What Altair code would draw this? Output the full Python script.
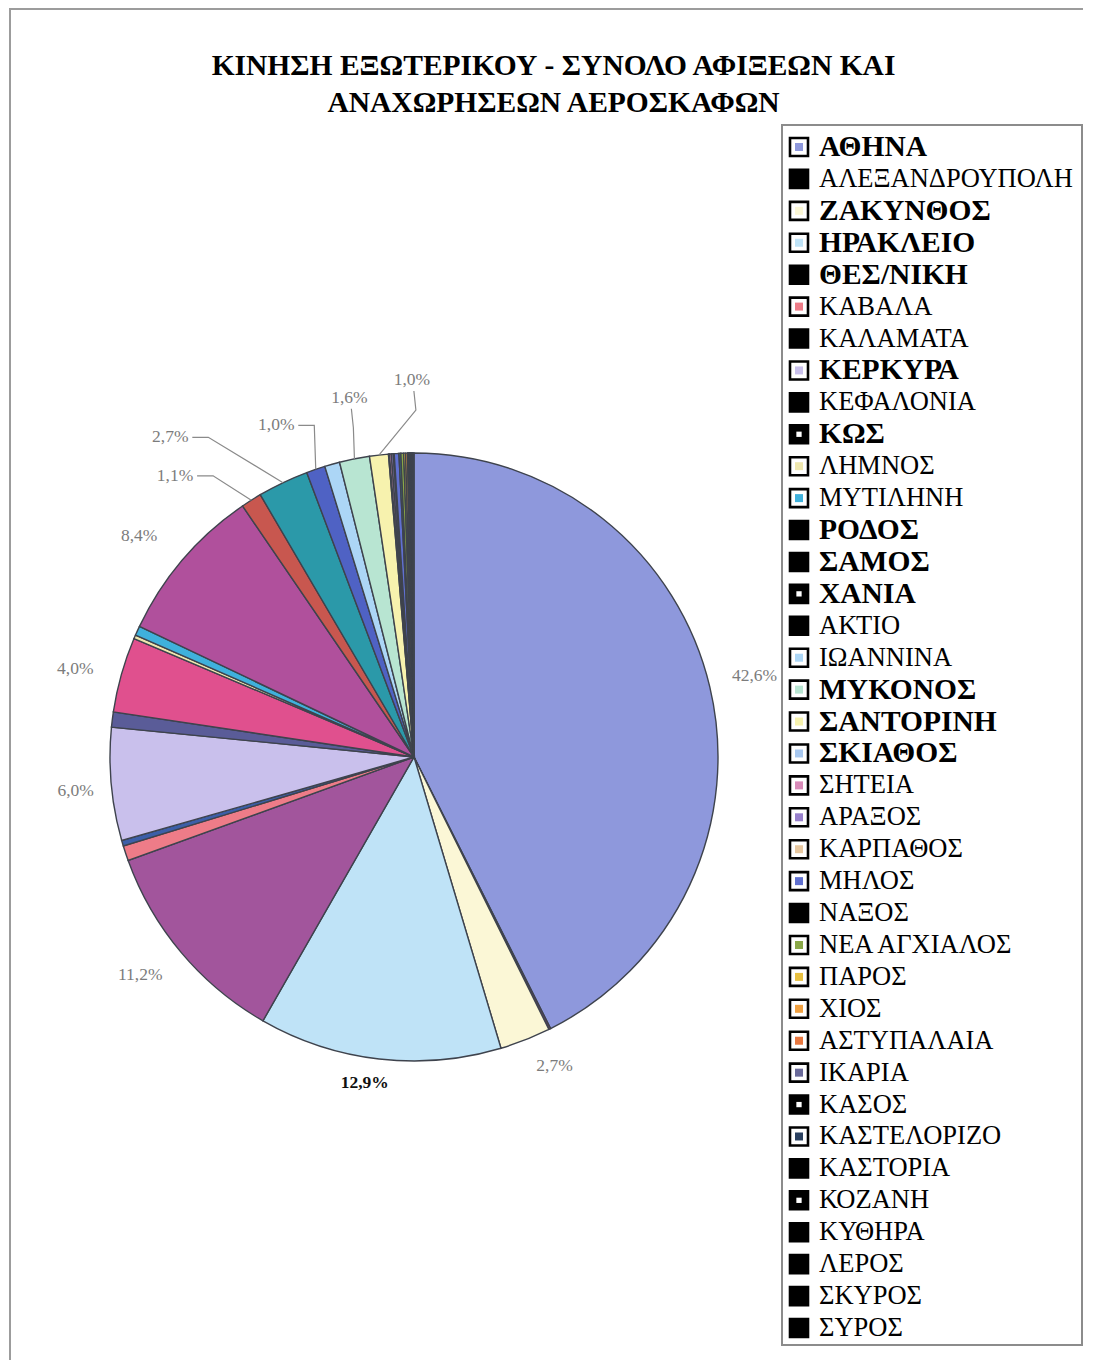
import altair as alt
import pandas as pd

TITLE = ["ΚΙΝΗΣΗ ΕΞΩΤΕΡΙΚΟΥ - ΣΥΝΟΛΟ ΑΦΙΞΕΩΝ ΚΑΙ", "ΑΝΑΧΩΡΗΣΕΩΝ ΑΕΡΟΣΚΑΦΩΝ"]

AIRPORTS = [
    "ΑΘΗΝΑ", "ΑΛΕΞΑΝΔΡΟΥΠΟΛΗ", "ΖΑΚΥΝΘΟΣ", "ΗΡΑΚΛΕΙΟ", "ΘΕΣ/ΝΙΚΗ", "ΚΑΒΑΛΑ",
    "ΚΑΛΑΜΑΤΑ", "ΚΕΡΚΥΡΑ", "ΚΕΦΑΛΟΝΙΑ", "ΚΩΣ", "ΛΗΜΝΟΣ", "ΜΥΤΙΛΗΝΗ", "ΡΟΔΟΣ",
    "ΣΑΜΟΣ", "ΧΑΝΙΑ", "ΑΚΤΙΟ", "ΙΩΑΝΝΙΝΑ", "ΜΥΚΟΝΟΣ", "ΣΑΝΤΟΡΙΝΗ", "ΣΚΙΑΘΟΣ",
    "ΣΗΤΕΙΑ", "ΑΡΑΞΟΣ", "ΚΑΡΠΑΘΟΣ", "ΜΗΛΟΣ", "ΝΑΞΟΣ", "ΝΕΑ ΑΓΧΙΑΛΟΣ", "ΠΑΡΟΣ",
    "ΧΙΟΣ", "ΑΣΤΥΠΑΛΑΙΑ", "ΙΚΑΡΙΑ", "ΚΑΣΟΣ", "ΚΑΣΤΕΛΟΡΙΖΟ", "ΚΑΣΤΟΡΙΑ", "ΚΟΖΑΝΗ",
    "ΚΥΘΗΡΑ", "ΛΕΡΟΣ", "ΣΚΥΡΟΣ", "ΣΥΡΟΣ",
]

SHARES = [
    42.6, 0.1, 2.7, 12.9, 11.2, 0.8,
    0.3, 6.0, 0.8, 4.0, 0.2, 0.5, 8.4,
    1.1, 2.7, 1.0, 0.8, 1.6, 1.0, 0.05,
    0.1, 0.1, 0.05, 0.25, 0.1, 0.15, 0.1,
    0.1, 0.03, 0.05, 0.03, 0.03, 0.03, 0.03,
    0.03, 0.03, 0.03, 0.05,
]

COLORS = [
    "#8e98dc", "#7a3a6a", "#fbf7d6", "#bfe3f7", "#a2559c", "#ee7c88",
    "#3c5fa8", "#c9c0ec", "#5a5c98", "#e0508e", "#efe7ae", "#3fb1dc", "#b0509c",
    "#c8574f", "#2b99a9", "#4f62c4", "#acd6f6", "#b8e5d2", "#f7f2ae", "#a8c8f0",
    "#d88ab8", "#9880cc", "#e8c8a0", "#6070d0", "#3a7f88", "#8aa848", "#e8c040",
    "#f0a040", "#e87840", "#6a6a9a", "#909090", "#2a4060", "#3a8a60", "#2a402a",
    "#444030", "#8a4a30", "#8a3a60", "#3a3a8a",
]

# legend text as printed (two entries carry a leading space)
LEGEND_TEXT = [("\u00a0" + n if n in ("ΖΑΚΥΝΘΟΣ", "ΗΡΑΚΛΕΙΟ") else n) for n in AIRPORTS]
LEGEND_BOLD = ["ΑΘΗΝΑ", "ΖΑΚΥΝΘΟΣ", "ΗΡΑΚΛΕΙΟ", "ΘΕΣ/ΝΙΚΗ", "ΚΕΡΚΥΡΑ", "ΚΩΣ",
               "ΡΟΔΟΣ", "ΣΑΜΟΣ", "ΧΑΝΙΑ", "ΜΥΚΟΝΟΣ", "ΣΑΝΤΟΡΙΝΗ", "ΣΚΙΑΘΟΣ"]
# swatch look in the printed legend: b = solid black, w = white box with colour, p = black with white mark
SWATCH = ["w", "b", "w", "w", "b", "w", "b", "w", "b", "p", "w", "w", "b",
          "b", "p", "b", "w", "w", "w", "w", "w", "w", "w", "w", "b", "w", "w",
          "w", "w", "w", "p", "w", "b", "p", "b", "b", "b", "b"]

# label placement (style): angle shift in degrees, radius px, leader type
LABEL_STYLE = {
    "ΑΘΗΝΑ": (0.0, 350, ""),
    "ΖΑΚΥΝΘΟΣ": (-3.0, 339, ""),
    "ΗΡΑΚΛΕΙΟ": (2.0, 330, ""),
    "ΘΕΣ/ΝΙΚΗ": (1.5, 350, ""),
    "ΚΕΡΚΥΡΑ": (-0.6, 340, ""),
    "ΚΩΣ": (-1.1, 350, ""),
    "ΡΟΔΟΣ": (-1.7, 353, ""),
    "ΣΑΜΟΣ": (-8.0, 369, "h"),
    "ΧΑΝΙΑ": (-11.8, 402, "h"),
    "ΑΚΤΙΟ": (-3.7, 359, "h"),
    "ΜΥΚΟΝΟΣ": (1.1, 365, "v"),
    "ΣΑΝΤΟΡΙΝΗ": (6.3, 377, "v"),
}
BOLD_PCT = ["ΗΡΑΚΛΕΙΟ"]

W, H = 1075, 1352
CX, CY, R = 406, 749, 304
FONT = "Liberation Serif"

df = pd.DataFrame({
    "name": AIRPORTS,
    "idx": list(range(len(AIRPORTS))),
    "value": SHARES,
    "leg": LEGEND_TEXT,
    "bold": [n in LEGEND_BOLD for n in AIRPORTS],
    "sw": SWATCH,
    "label": [(f"{v:.1f}".replace(".", ",") + "%") if n in LABEL_STYLE else "" for n, v in zip(AIRPORTS, SHARES)],
    "shift": [LABEL_STYLE.get(n, (0, 0, ""))[0] for n in AIRPORTS],
    "lr": [LABEL_STYLE.get(n, (0, 0, ""))[1] for n in AIRPORTS],
    "lead": [LABEL_STYLE.get(n, (0, 0, ""))[2] for n in AIRPORTS],
    "pbold": [n in BOLD_PCT for n in AIRPORTS],
})

color_scale = alt.Scale(domain=AIRPORTS, range=COLORS)
base = alt.Chart(df)

pie = base.mark_arc(outerRadius=R, stroke="#3e434d", strokeWidth=1.4).encode(
    theta=alt.Theta("value:Q", stack=True),
    color=alt.Color("name:N", scale=color_scale, legend=None),
    order=alt.Order("idx:Q"),
    x=alt.value(CX),
    y=alt.value(CY),
)

calc = (
    base.transform_window(cum="sum(value)", sort=[alt.SortField("idx")], frame=[None, 0])
    .transform_joinaggregate(total="sum(value)")
    .transform_calculate(mid="2*PI*(datum.cum - datum.value/2)/datum.total")
    .transform_calculate(la="datum.mid + datum.shift*PI/180")
    .transform_calculate(lx=f"{CX} + datum.lr*sin(datum.la)")
    .transform_calculate(ly=f"{CY} - datum.lr*cos(datum.la)")
    .transform_calculate(rx=f"{CX} + {R}*sin(datum.mid)")
    .transform_calculate(ry=f"{CY} - {R}*cos(datum.mid)")
)

labels_norm = calc.transform_filter("datum.label != '' && !datum.pbold").mark_text(
    font=FONT, fontSize=17.5, color="#7c7c7c", align="center", baseline="middle"
).encode(x=alt.X("lx:Q", scale=None, axis=None), y=alt.Y("ly:Q", scale=None, axis=None), text="label:N")

labels_bold = calc.transform_filter("datum.label != '' && datum.pbold").mark_text(
    font=FONT, fontSize=17.5, fontWeight="bold", color="#111111", align="center", baseline="middle"
).encode(x=alt.X("lx:Q", scale=None, axis=None), y=alt.Y("ly:Q", scale=None, axis=None), text="label:N")

leaders = (
    calc.transform_filter("datum.lead != ''")
    .transform_calculate(k="[0, 1, 2]")
    .transform_flatten(["k"])
    .transform_calculate(
        px="datum.k == 2 ? datum.rx : (datum.lead == 'h' ? datum.lx + (datum.k == 0 ? 22 : 38) : datum.lx + (datum.k == 0 ? 2 : 4))"
    )
    .transform_calculate(
        py="datum.k == 2 ? datum.ry : (datum.lead == 'h' ? datum.ly : datum.ly + (datum.k == 0 ? 11 : 30))"
    )
    .mark_line(color="#8a8a8a", strokeWidth=1.2)
    .encode(
        x=alt.X("px:Q", scale=None, axis=None),
        y=alt.Y("py:Q", scale=None, axis=None),
        detail="name:N",
        order="k:Q",
    )
)

dummy = alt.Chart(pd.DataFrame({"a": [0]}))
frame_left = dummy.mark_rule(color="#9c9c9c", strokeWidth=2).encode(
    x=alt.value(2), y=alt.value(0), y2=alt.value(H))
frame_top = dummy.mark_rule(color="#9c9c9c", strokeWidth=2).encode(
    x=alt.value(2), x2=alt.value(W), y=alt.value(1))
legend_box = dummy.mark_rect(fill="white", stroke="#8c8c8c", strokeWidth=2).encode(
    x=alt.value(774), x2=alt.value(1074), y=alt.value(117), y2=alt.value(1337))

yleg = alt.Y("name:N", sort=AIRPORTS,
             scale=alt.Scale(type="point", domain=AIRPORTS, range=[139, 1320], padding=0),
             axis=None)
SWX = 791
TXX = 811
sw_outer = base.mark_square(size=18 * 18, stroke="black", strokeWidth=2.6, opacity=1).encode(
    x=alt.value(SWX), y=yleg,
    color=alt.condition("datum.sw == 'w'", alt.value("white"), alt.value("black")),
)
sw_inner = base.transform_filter("datum.sw == 'w'").mark_square(size=64, opacity=1).encode(
    x=alt.value(SWX), y=yleg, color=alt.Color("name:N", scale=color_scale, legend=None))
sw_mark = base.transform_filter("datum.sw == 'p'").mark_square(size=28, opacity=1, color="white").encode(
    x=alt.value(SWX), y=yleg)
leg_norm = base.transform_filter("!datum.bold").mark_text(
    font=FONT, fontSize=26.5, align="left", baseline="middle", color="black"
).encode(x=alt.value(TXX), y=yleg, text="leg:N")
leg_bold = base.transform_filter("datum.bold").mark_text(
    font=FONT, fontSize=29.5, fontWeight="bold", align="left", baseline="middle", color="black"
).encode(x=alt.value(TXX), y=yleg, text="leg:N")

chart = alt.layer(
    frame_left, frame_top, pie, leaders, labels_norm, labels_bold,
    legend_box, sw_outer, sw_inner, sw_mark, leg_norm, leg_bold,
).resolve_scale(x="independent", y="independent").properties(
    width=W, height=H, padding=0,
    autosize=alt.AutoSizeParams(type="none"),
    title=alt.Title(TITLE, font=FONT, fontSize=29.5, fontWeight="bold", color="black",
                    anchor="middle", frame="group", offset=-134, baseline="alphabetic",
                    lineHeight=37, dx=8),
).configure_view(stroke=None)

chart.save("out.html", embed_options={"renderer": "svg", "actions": False})
